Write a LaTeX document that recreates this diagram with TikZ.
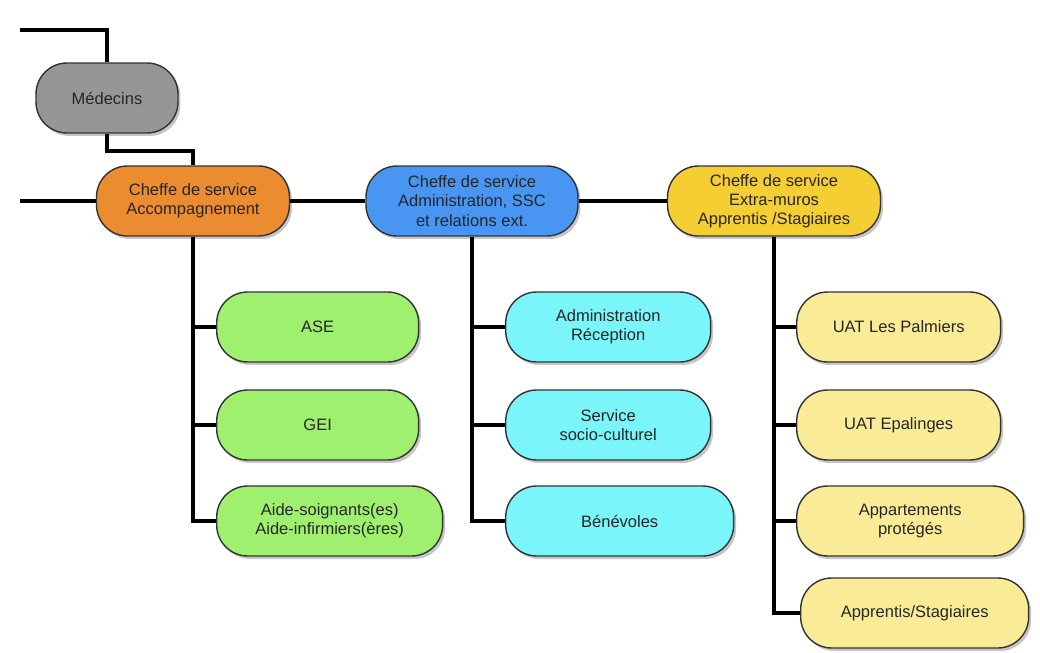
\documentclass[tikz,border=0pt]{standalone}
\usepackage{fontspec}
\setmainfont{Liberation Sans}
\usepackage{xcolor}
\usepackage{tikz}
\usetikzlibrary{shadows, positioning}

\definecolor{medgray}{RGB}{150,150,150}
\definecolor{accorange}{RGB}{236,140,48}
\definecolor{adminblue}{RGB}{72,150,242}
\definecolor{extrayellow}{RGB}{245,206,52}
\definecolor{accgreen}{RGB}{160,240,112}
\definecolor{admincyan}{RGB}{122,246,250}
\definecolor{extralight}{RGB}{250,236,150}

\begin{document}
\begin{tikzpicture}[x=0.02cm, y=-0.02cm]

    % Define style for boxes
    \tikzstyle{box} = [rectangle, rounded corners=0.62cm, minimum height=1.4cm, align=center, draw=black!80, line width=0.8pt, font=\fontsize{9.4}{10.9}\selectfont, text=black!85, drop shadow={shadow xshift=0.05cm, shadow yshift=-0.06cm, opacity=0.45}]
    \tikzstyle{chief} = [box, minimum width=4.24cm]
    \tikzstyle{accsub} = [box, fill=accgreen, minimum width=4.04cm, anchor=west]
    \tikzstyle{adminsub} = [box, fill=admincyan, minimum width=4.1cm, anchor=west]
    \tikzstyle{extrasub} = [box, fill=extralight, minimum width=4.08cm, anchor=west]
    \tikzstyle{link} = [line width=2.5pt, black]

    \useasboundingbox (0,0) rectangle (1040,652);

    % Nodes
    \node (medecins) [box, fill=medgray, minimum width=2.84cm] at (107,98) {Médecins};

    \node (accomp) [chief, fill=accorange, minimum width=3.86cm] at (193,201) {Cheffe de service\\Accompagnement};
    \node (admin) [chief, fill=adminblue] at (472,201) {Cheffe de service\\Administration, SSC\\et relations ext.};
    \node (extra) [chief, fill=extrayellow, minimum width=4.26cm] at (774,201) {Cheffe de service\\Extra-muros\\Apprentis /Stagiaires};

    \node (ase) [accsub] at (216,327) {ASE};
    \node (gei) [accsub] at (216,425) {GEI};
    \node (aide) [accsub, minimum width=4.52cm] at (216,521) {Aide-soignants(es)\\Aide-infirmiers(ères)};

    \node (reception) [adminsub] at (505,327) {Administration\\Réception};
    \node (socio) [adminsub] at (505,425) {Service\\socio-culturel};
    \node (benevoles) [adminsub, minimum width=4.56cm] at (505,521) {Bénévoles};

    \node (palmiers) [extrasub] at (796,327) {UAT Les Palmiers};
    \node (epalinges) [extrasub] at (796,425) {UAT Epalinges};
    \node (appart) [extrasub, minimum width=4.54cm] at (796,521) {Appartements\\protégés};
    \node (apprentis) [extrasub, minimum width=4.56cm] at (800,613) {Apprentis/Stagiaires};

    \coordinate (topin) at (20,30);
    \coordinate (leftin) at (20,201);

    % Lines
    \draw[link] (topin) -| (medecins.north);
    \draw[link] (medecins.south) -- ++(0,17) -| (accomp.north);
    \draw[link] (leftin) -- (accomp.west);
    \draw[link] (accomp.east) -- (admin.west);
    \draw[link] (admin.east) -- (extra.west);

    \draw[link] (accomp.south) |- (ase.west);
    \draw[link] (accomp.south) |- (gei.west);
    \draw[link] (accomp.south) |- (aide.west);

    \draw[link] (admin.south) |- (reception.west);
    \draw[link] (admin.south) |- (socio.west);
    \draw[link] (admin.south) |- (benevoles.west);

    \draw[link] (extra.south) |- (palmiers.west);
    \draw[link] (extra.south) |- (epalinges.west);
    \draw[link] (extra.south) |- (appart.west);
    \draw[link] (extra.south) |- (apprentis.west);

\end{tikzpicture}
\end{document}
